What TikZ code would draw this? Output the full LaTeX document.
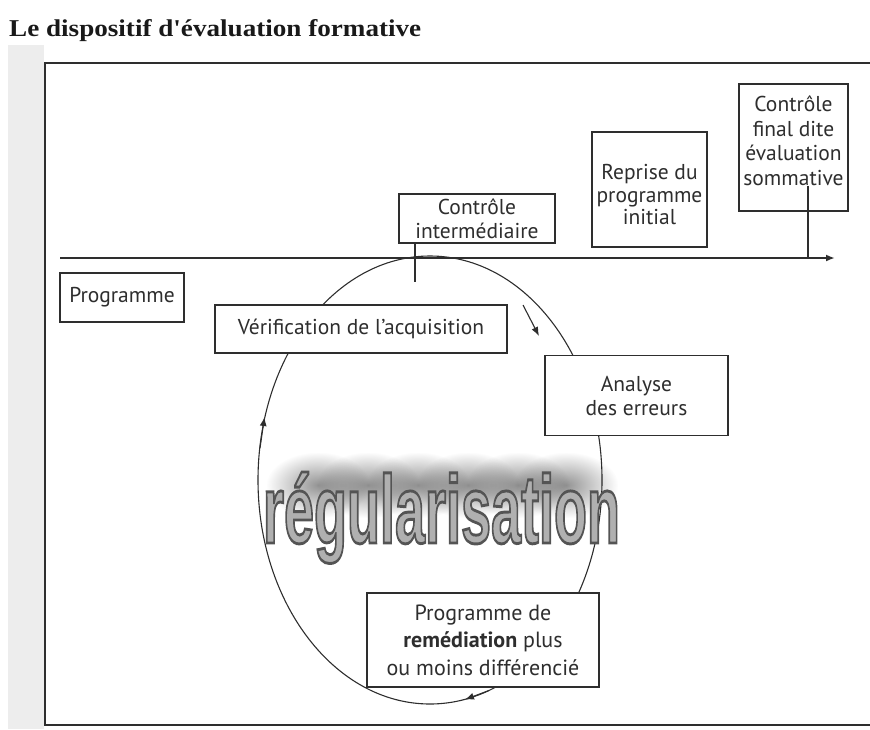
\documentclass[tikz,border=0pt]{standalone}
\usepackage{fontspec}
\setmainfont{PT Sans}
\newfontfamily\titlefont{Liberation Serif}
\newfontfamily\regfont{Liberation Sans}
\usetikzlibrary{arrows.meta,fadings}
\tikzfading[name=softblob, inner color=transparent!0, outer color=transparent!100]
\definecolor{ink}{HTML}{2E2E2E}
\definecolor{regfill}{HTML}{B0B0B0}
\newcommand\regword{\resizebox{357pt}{71pt}{\regfont\bfseries\fontsize{100}{100}\selectfont
  \special{pdf:literal direct 2 Tr 3 w 0.33 0.33 0.33 RG}régularisation\special{pdf:literal direct 0 Tr}}}
\begin{document}
\begin{tikzpicture}[x=1pt,y=-1pt,
  box/.style={draw=ink, line width=1.1pt, fill=white, inner sep=0pt, align=center, text=ink,
    font=\fontsize{21.5}{24}\selectfont},
  txt/.style={inner sep=0pt, align=center, text=ink, font=\fontsize{21.5}{22.5}\selectfont},
  conn/.style={draw=ink, line width=1.1pt},
  tip/.style={-{Latex[length=9pt,width=7pt]}},
  fuzz/.style={fill=black, opacity=0.42, path fading=softblob}]
\useasboundingbox (0,0) rectangle (870,729);
% scan strip on the left
\fill[black!7] (8,45) rectangle (44,729);
% title
\node[anchor=base west, inner sep=0pt, text=black!90] (title) at (9,36)
  {\resizebox{412pt}{17pt}{\titlefont\bfseries Le dispositif d'évaluation formative}};
% frame
\draw[ink, line width=1.2pt] (870,63) -- (45,63) -- (45,725) -- (870,725);
% timeline
\coordinate (tl0) at (60,258);
\coordinate (tl1) at (835,258);
\draw[conn, line width=1.8pt, tip] (tl0) -- (tl1);
% cycle
\draw[conn] (430,480) ellipse [x radius=172pt, y radius=224pt];
\coordinate (la0) at (260,448);
\coordinate (la1) at (264.5,417);
\draw[conn, tip] (la0) -- (la1);
\coordinate (ba0) at (489,690.5);
\coordinate (ba1) at (465,699.5);
\draw[conn, tip] (ba0) -- (ba1);
% small arrow
\coordinate (sa0) at (523,305);
\coordinate (sa1) at (539,336);
\draw[conn, tip] (sa0) -- (sa1);
% boxes
\node[box, minimum width=156pt, minimum height=49pt] (ci) at (477,218.5) {Contrôle\\intermédiaire};
\coordinate (ciend) at (415,282);
\draw[conn] (ci.south -| ciend) -- (ciend);
\node[box, minimum width=124pt, minimum height=49pt] (prog) at (122,297.5) {Programme};
\node[box, minimum width=292pt, minimum height=48pt] (verif) at (361,329) {Vérification de l'acquisition};
\node[box, minimum width=183pt, minimum height=80pt] (anal) at (636.5,395.5) {Analyse\\des erreurs};
\node[box, minimum width=115pt, minimum height=115pt] (repr) at (649.5,189.5) {};
\node[txt] (reprt) at (649.5,195) {Reprise du\\programme\\initial};
\node[box, minimum width=109pt, minimum height=127pt] (cf) at (793.5,147.5) {};
\node[txt, font=\fontsize{21.5}{24.5}\selectfont] (cft) at (793.5,141) {Contrôle\\final dite\\évaluation\\sommative};
\coordinate (cfend) at (808,258);
\draw[conn] (cfend |- cft.south) -- (cfend);
\node[box, minimum width=232pt, minimum height=94pt, font=\fontsize{22}{27.5}\selectfont] (rem) at (483,640)
  {Programme de\\\textbf{remédiation} plus\\ou moins différencié};
% régularisation : dark fuzz above the letters, then the word
\foreach \cx in {318,368,418,468,518,566}{
  \fill[fuzz] (\cx-52,452) rectangle (\cx+52,518);
}
\node[inner sep=0pt, anchor=base, text=regfill] (reg) at (441.5,543) {\regword};
\end{tikzpicture}
\end{document}
